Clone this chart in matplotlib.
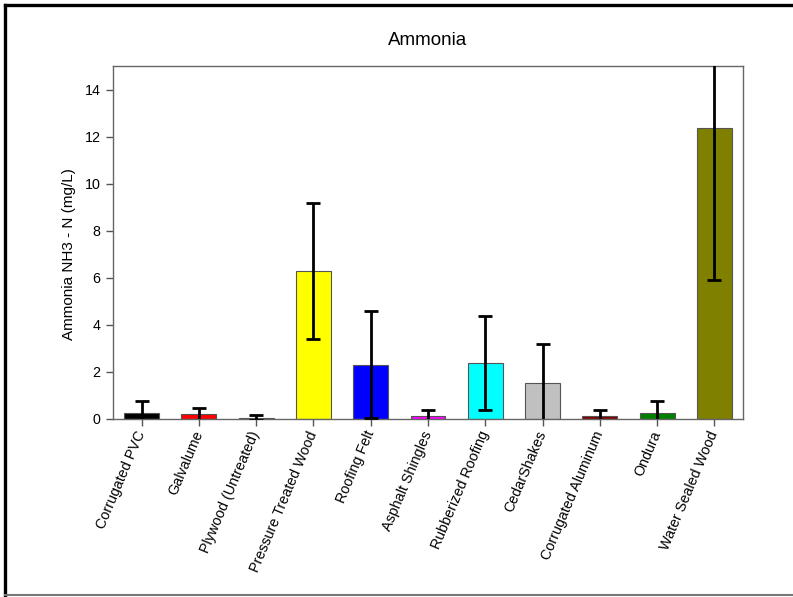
import matplotlib
matplotlib.use("Agg")
import matplotlib.pyplot as plt
from matplotlib.lines import Line2D

plt.rcParams['font.family'] = ['Liberation Sans', 'DejaVu Sans']

categories = ["Corrugated PVC", "Galvalume", "Plywood (Untreated)",
              "Pressure Treated Wood", "Roofing Felt", "Asphalt Shingles",
              "Rubberized Roofing", "CedarShakes", "Corrugated Aluminum",
              "Ondura", "Water Sealed Wood"]
means = [0.25, 0.20, 0.06, 6.29, 2.31, 0.11, 2.37, 1.53, 0.11, 0.25, 12.37]
errors = [0.50, 0.27, 0.11, 2.87, 2.28, 0.26, 2.00, 1.65, 0.26, 0.50, 6.47]
colors = ["#000000", "#ff0000", "#008000", "#ffff00", "#0000ff", "#ff00ff",
          "#00ffff", "#c0c0c0", "#800000", "#008000", "#808000"]
yticks = [0, 2, 4, 6, 8, 10, 12, 14]

fig = plt.figure(figsize=(7.93, 5.97), dpi=100)
ax = fig.add_axes([113/793, 1-419/597, 630/793, 353/597])

x = list(range(len(categories)))
ax.bar(x, means, width=0.61, color=colors, edgecolor="#555555",
       linewidth=0.8, zorder=2)
ax.errorbar(x, means, yerr=errors, fmt="none", ecolor="black",
            elinewidth=2, capsize=5, capthick=2, zorder=3)

ax.set_xlim(-0.5, len(categories) - 0.5)
ax.set_ylim(0, 15)
ax.set_yticks(yticks)
ax.set_xticks(x)
ax.set_xticklabels(categories, rotation=67, ha="right", va="center",
                   rotation_mode="anchor", fontsize=10.3)
ax.tick_params(axis="y", labelsize=10.3)
ax.tick_params(direction="out", length=5, width=1, color="#555555", pad=4)

for sp in ax.spines.values():
    sp.set_color("#666666")
    sp.set_linewidth(1.0)

ax.set_ylabel("Ammonia NH3 - N (mg/L)", fontsize=11)
ax.yaxis.set_label_coords(-0.058, 0.468)
ax.set_title("Ammonia", fontsize=13.5, pad=15)

# outer frame of the figure
fig.add_artist(Line2D([5/793, 1], [1-5/597, 1-5/597], color="black",
                      linewidth=2.4, transform=fig.transFigure))
fig.add_artist(Line2D([5/793, 5/793], [2/597, 1-5/597], color="black",
                      linewidth=2.4, transform=fig.transFigure))
fig.add_artist(Line2D([5/793, 1], [2/597, 2/597], color="#777777",
                      linewidth=1.5, transform=fig.transFigure))

fig.savefig("out.png", dpi=100)
